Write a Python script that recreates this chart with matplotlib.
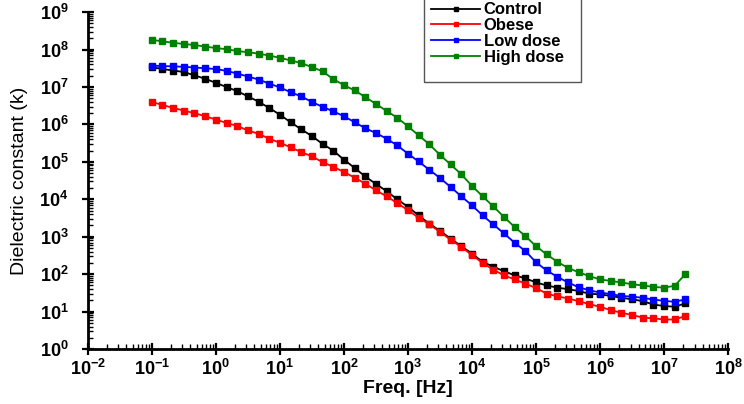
import numpy as np
import matplotlib
matplotlib.use("Agg")
import matplotlib.pyplot as plt
from matplotlib.patches import Rectangle
from matplotlib.ticker import FixedLocator, FixedFormatter, LogLocator, NullFormatter

plt.rcParams['font.family'] = ['Liberation Sans', 'DejaVu Sans']
plt.rcParams['mathtext.fontset'] = 'custom'
plt.rcParams['mathtext.rm'] = 'Liberation Sans:bold'
plt.rcParams['mathtext.bf'] = 'Liberation Sans:bold'

# measurement grid: 0.1 Hz to ~2e7 Hz, 6 points per decade
freq = np.logspace(-1, 7 + 1 / 3, 51)

# log10 of dielectric constant, one value per frequency
control_log = [7.53, 7.48, 7.44, 7.40, 7.31, 7.22, 7.11, 7.00, 6.89, 6.75,
               6.61, 6.44, 6.26, 6.06, 5.87, 5.69, 5.48, 5.30, 5.06, 4.84,
               4.61, 4.41, 4.22, 4.00, 3.80, 3.57, 3.35, 3.16, 2.95, 2.75,
               2.55, 2.33, 2.20, 2.08, 1.97, 1.89, 1.78, 1.70, 1.64, 1.60,
               1.55, 1.48, 1.46, 1.42, 1.37, 1.33, 1.28, 1.19, 1.15, 1.13,
               1.22]
obese_log = [6.60, 6.52, 6.44, 6.37, 6.30, 6.22, 6.13, 6.04, 5.96, 5.84,
             5.75, 5.62, 5.51, 5.39, 5.26, 5.15, 4.99, 4.87, 4.73, 4.58,
             4.42, 4.24, 4.08, 3.90, 3.71, 3.51, 3.33, 3.13, 2.92, 2.73,
             2.51, 2.30, 2.12, 1.97, 1.86, 1.75, 1.63, 1.48, 1.41, 1.35,
             1.28, 1.20, 1.13, 1.04, 0.97, 0.91, 0.84, 0.82, 0.79, 0.79,
             0.88]
low_log = [7.57, 7.56, 7.55, 7.54, 7.52, 7.50, 7.48, 7.43, 7.36, 7.28,
           7.20, 7.09, 6.99, 6.86, 6.75, 6.60, 6.47, 6.35, 6.22, 6.06,
           5.90, 5.77, 5.62, 5.44, 5.22, 5.01, 4.79, 4.57, 4.33, 4.08,
           3.84, 3.57, 3.33, 3.09, 2.84, 2.62, 2.32, 2.10, 1.93, 1.78,
           1.65, 1.57, 1.51, 1.47, 1.42, 1.40, 1.37, 1.32, 1.29, 1.26,
           1.33]
high_log = [8.26, 8.22, 8.18, 8.15, 8.12, 8.08, 8.04, 8.01, 7.96, 7.93,
            7.89, 7.84, 7.78, 7.71, 7.64, 7.53, 7.42, 7.21, 7.05, 6.91,
            6.73, 6.55, 6.36, 6.18, 5.95, 5.71, 5.47, 5.19, 4.93, 4.67,
            4.36, 4.08, 3.81, 3.53, 3.26, 3.02, 2.75, 2.53, 2.33, 2.17,
            2.05, 1.95, 1.86, 1.82, 1.78, 1.73, 1.70, 1.66, 1.64, 1.69,
            2.00]

labels = ["Control", "Obese", "Low dose", "High dose"]
colors = ["black", "#ff0000", "#0000ff", "#008000"]
series = [control_log, obese_log, low_log, high_log]

W, H = 744, 404
fig = plt.figure(figsize=(W / 100, H / 100), dpi=100)
ax = fig.add_axes([0.118, 0.136, 0.8605, 0.834])

for lab, col, vals in zip(labels, colors, series):
    ax.plot(freq, 10 ** np.array(vals), color=col, marker="s", markersize=4,
            linewidth=1.3, label=lab)

ax.set_xscale("log")
ax.set_yscale("log")
ax.set_xlim(1e-2, 1e8)
ax.set_ylim(1, 1e9)

xexp = list(range(-2, 9))
yexp = list(range(0, 10))
ax.xaxis.set_major_locator(FixedLocator([10.0 ** e for e in xexp]))
ax.xaxis.set_major_formatter(FixedFormatter([r"$\mathbf{10^{%d}}$" % e for e in xexp]))
ax.yaxis.set_major_locator(FixedLocator([10.0 ** e for e in yexp]))
ax.yaxis.set_major_formatter(FixedFormatter([r"$\mathbf{10^{%d}}$" % e for e in yexp]))
ax.xaxis.set_minor_locator(LogLocator(base=10, subs=np.arange(2, 10), numticks=20))
ax.yaxis.set_minor_locator(LogLocator(base=10, subs=np.arange(2, 10), numticks=20))
ax.xaxis.set_minor_formatter(NullFormatter())
ax.yaxis.set_minor_formatter(NullFormatter())

for s in ["top", "right"]:
    ax.spines[s].set_visible(False)
for s in ["left", "bottom"]:
    ax.spines[s].set_linewidth(2)

ax.tick_params(which="major", direction="inout", length=8, width=1.6, labelsize=13)
ax.tick_params(which="minor", direction="in", length=3.5, width=1.0)
ax.tick_params(axis="x", which="major", pad=3)
ax.tick_params(axis="y", which="major", pad=10)

ax.set_xlabel("Freq. [Hz]", fontsize=14, fontweight="bold", labelpad=1)
ax.set_ylabel("Dielectric constant (k)", fontsize=14, labelpad=8)

# legend without its own frame; the box in the reference runs off the top edge
leg = ax.legend(loc="upper left", bbox_to_anchor=(428 / W, 1.0 + 1 / H),
                bbox_transform=fig.transFigure, frameon=False,
                prop={"weight": "bold", "size": 12}, handlelength=2.9,
                handletextpad=0.25, borderpad=0.2, labelspacing=0.05,
                borderaxespad=0, markerscale=0.7)
fig.patches.append(Rectangle((424 / W, 1 - 82 / H), 157 / W, 90 / H,
                             transform=fig.transFigure, fill=False,
                             edgecolor="#555555", linewidth=1.0))

fig.savefig("out.png", dpi=100)
